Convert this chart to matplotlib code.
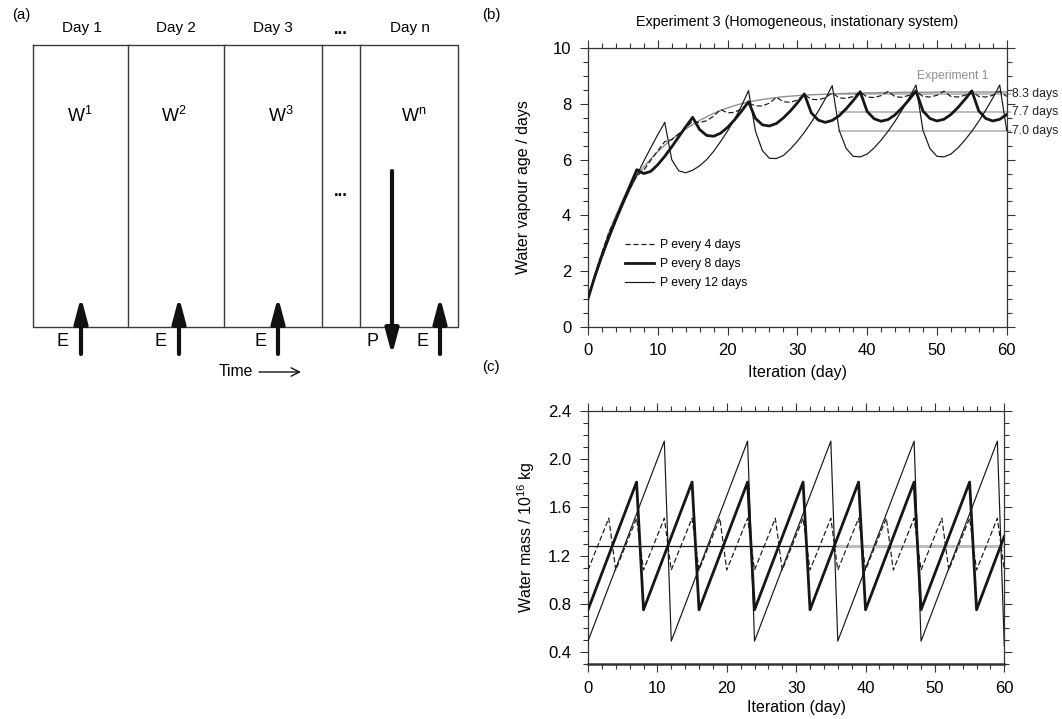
import matplotlib
matplotlib.use('Agg')
import matplotlib.pyplot as plt
from matplotlib.ticker import MultipleLocator

plt.rcParams['font.family'] = ['Liberation Sans', 'DejaVu Sans']
plt.rcParams['mathtext.fontset'] = 'custom'
plt.rcParams['mathtext.rm'] = 'Liberation Sans'
plt.rcParams['mathtext.it'] = 'Liberation Sans:italic'
plt.rcParams['mathtext.bf'] = 'Liberation Sans:bold'

# ---------------- data ----------------
days = list(range(61))

age_p4 = [1.00, 1.87, 2.66, 3.39, 3.92, 4.45, 4.95, 5.42, 5.62, 5.98,
          6.32, 6.65, 6.72, 6.93, 7.15, 7.38, 7.33, 7.40, 7.56, 7.80,
          7.68, 7.70, 7.83, 8.03, 7.93, 7.93, 8.03, 8.24, 8.08, 8.06,
          8.14, 8.34, 8.17, 8.15, 8.22, 8.40, 8.22, 8.20, 8.27, 8.43,
          8.25, 8.23, 8.30, 8.45, 8.26, 8.24, 8.31, 8.46, 8.27, 8.25,
          8.31, 8.46, 8.27, 8.25, 8.31, 8.46, 8.27, 8.25, 8.31, 8.46,
          8.27]

age_p8 = [1.00, 1.83, 2.56, 3.23, 3.86, 4.47, 5.06, 5.64, 5.50, 5.58,
          5.82, 6.12, 6.46, 6.82, 7.18, 7.52, 7.08, 6.87, 6.84, 6.95,
          7.16, 7.43, 7.74, 8.08, 7.48, 7.25, 7.21, 7.30, 7.50, 7.75,
          8.04, 8.36, 7.68, 7.42, 7.34, 7.41, 7.58, 7.83, 8.12, 8.44,
          7.73, 7.47, 7.38, 7.44, 7.61, 7.86, 8.15, 8.47, 7.75, 7.48,
          7.39, 7.45, 7.62, 7.87, 8.16, 8.47, 7.75, 7.48, 7.39, 7.45,
          7.62]

age_p12 = [1.00, 1.76, 2.48, 3.15, 3.78, 4.37, 4.93, 5.45, 5.95, 6.43,
           6.90, 7.34, 6.00, 5.60, 5.53, 5.62, 5.78, 6.00, 6.30, 6.65,
           7.03, 7.45, 7.93, 8.48, 7.02, 6.32, 6.05, 6.04, 6.15, 6.38,
           6.66, 6.98, 7.34, 7.74, 8.18, 8.66, 7.05, 6.40, 6.12, 6.10,
           6.20, 6.42, 6.70, 7.02, 7.38, 7.78, 8.21, 8.68, 7.05, 6.40,
           6.12, 6.10, 6.20, 6.42, 6.70, 7.02, 7.38, 7.78, 8.21, 8.68,
           7.05]

age_exp1 = [1.00, 1.85, 2.65, 3.38, 4.00, 4.55, 5.02, 5.42, 5.74, 6.03,
            6.29, 6.52, 6.73, 6.92, 7.10, 7.26, 7.41, 7.54, 7.66, 7.77,
            7.86, 7.94, 8.01, 8.07, 8.12, 8.16, 8.20, 8.23, 8.26, 8.28,
            8.30, 8.32, 8.33, 8.34, 8.35, 8.36, 8.37, 8.38, 8.39, 8.39,
            8.40, 8.40, 8.41, 8.41, 8.41, 8.42, 8.42, 8.42, 8.42, 8.42,
            8.43, 8.43, 8.43, 8.43, 8.43, 8.43, 8.43, 8.43, 8.43, 8.43,
            8.43]

ref_ages = [8.35, 7.72, 7.04]
ref_labels = ['8.3 days', '7.7 days', '7.0 days']
ref_start_day = 36

mass_days_p4 = [0, 3, 4, 7, 8, 11, 12, 15, 16, 19, 20, 23, 24, 27, 28, 31,
                32, 35, 36, 39, 40, 43, 44, 47, 48, 51, 52, 55, 56, 59, 60]
mass_p4 = [1.08, 1.51, 1.08, 1.51, 1.08, 1.51, 1.08, 1.51, 1.08, 1.51, 1.08,
           1.51, 1.08, 1.51, 1.08, 1.51, 1.08, 1.51, 1.08, 1.51, 1.08, 1.51,
           1.08, 1.51, 1.08, 1.51, 1.08, 1.51, 1.08, 1.51, 1.08]

mass_days_p8 = [0, 7, 8, 15, 16, 23, 24, 31, 32, 39, 40, 47, 48, 55, 56, 60]
mass_p8 = [0.75, 1.81, 0.75, 1.81, 0.75, 1.81, 0.75, 1.81, 0.75, 1.81, 0.75,
           1.81, 0.75, 1.81, 0.75, 1.36]

mass_days_p12 = [0, 11, 12, 23, 24, 35, 36, 47, 48, 59, 60]
mass_p12 = [0.49, 2.15, 0.49, 2.15, 0.49, 2.15, 0.49, 2.15, 0.49, 2.15, 0.45]

mass_mean = 1.28
mass_mean_grey_from = 36

legend_labels = ['P every 4 days', 'P every 8 days', 'P every 12 days']

day_labels = ['Day 1', 'Day 2', 'Day 3', 'Day n']
w_sups = ['1', '2', '3', 'n']

# ---------------- styles ----------------
INK = '#161616'
SPINE = '#333333'
GREY = '#8f8f8f'
LGREY = '#bdbdbd'
st4 = dict(color=INK, lw=0.85, ls=(0, (4.5, 2.2)))
st8 = dict(color=INK, lw=2.0)
st12 = dict(color=INK, lw=0.85)

W, H = 1062, 719
fig = plt.figure(figsize=(W / 100, H / 100), dpi=100)

# ---------------- panel (a): schematic in pixel coords ----------------
axa = fig.add_axes([0, 0, 1, 1])
axa.set_xlim(0, W)
axa.set_ylim(H, 0)
axa.axis('off')

bx0, bx1, by0, by1 = 33, 458, 45, 327
axa.plot([bx0, bx1, bx1, bx0, bx0], [by0, by0, by1, by1, by0], color='#3a3a3a', lw=1.0)
for xd in [128, 224, 322, 360]:
    axa.plot([xd, xd], [by0, by1], color='#3a3a3a', lw=1.0)

for lab, xc in zip(day_labels, [82, 175.5, 273, 410]):
    axa.text(xc, 28, lab, ha='center', va='center', fontsize=11)
axa.text(341, 29, '...', ha='center', va='center', fontsize=12, fontweight='bold')
axa.text(341, 192, '...', ha='center', va='center', fontsize=12, fontweight='bold')

for sup, xc in zip(w_sups, [80, 174, 281, 414]):
    axa.text(xc, 116, r'W$^{\mathregular{' + sup + '}}$', ha='center', va='center', fontsize=13)

arrow_kw = dict(arrowstyle='-|>,head_width=0.2,head_length=0.75', lw=3.0, color='#111111',
                shrinkA=0, shrinkB=0, mutation_scale=20)
for xa in [81, 179, 278, 440]:
    axa.annotate('', xy=(xa, 297), xytext=(xa, 354), arrowprops=arrow_kw)
axa.annotate('', xy=(392, 355), xytext=(392, 171), arrowprops=arrow_kw)

for xe in [63, 161, 260, 422]:
    axa.text(xe, 342, 'E', ha='center', va='center', fontsize=13)
axa.text(373, 341, 'P', ha='center', va='center', fontsize=13)

axa.text(236, 371, 'Time', ha='center', va='center', fontsize=11.3)
axa.annotate('', xy=(301, 372), xytext=(259, 372),
             arrowprops=dict(arrowstyle='->,head_width=0.25,head_length=0.5', lw=1.0,
                             color='#111111', shrinkA=0, shrinkB=0, mutation_scale=12))

axa.text(21, 15, '(a)', ha='center', va='center', fontsize=10.8)
axa.text(491, 15, '(b)', ha='center', va='center', fontsize=10.8)
axa.text(491, 367, '(c)', ha='center', va='center', fontsize=10.8)


def style_axes(ax):
    for s in ax.spines.values():
        s.set_color(SPINE)
        s.set_linewidth(0.9)
    ax.tick_params(which='both', direction='out', top=True, right=True,
                   labeltop=False, labelright=False, color=SPINE, width=0.8)
    ax.tick_params(which='major', length=6, labelsize=12, pad=6)
    ax.tick_params(which='minor', length=3.3)


# ---------------- panel (b) ----------------
axb = fig.add_axes([588 / W, 1 - 326.7 / H, 418.7 / W, 278.4 / H])
axb.plot(days, age_exp1, color=GREY, lw=1.0, zorder=2)
for v in ref_ages:
    axb.plot([ref_start_day, 60.5], [v, v], color=LGREY, lw=1.4, clip_on=False, zorder=1)
for v, lab in zip(ref_ages, ref_labels):
    axb.text(60.7, v, lab, ha='left', va='center', fontsize=8.8, color='#222222')
l4, = axb.plot(days, age_p4, **st4, zorder=3)
l8, = axb.plot(days, age_p8, **st8, zorder=3)
l12, = axb.plot(days, age_p12, **st12, zorder=3)
axb.text(52.3, 9.0, 'Experiment 1', ha='center', va='center', fontsize=8.7, color=GREY)
axb.set_xlim(0, 60)
axb.set_ylim(0, 10)
axb.xaxis.set_major_locator(MultipleLocator(10))
axb.xaxis.set_minor_locator(MultipleLocator(2))
axb.yaxis.set_major_locator(MultipleLocator(2))
axb.yaxis.set_minor_locator(MultipleLocator(0.5))
style_axes(axb)
axb.set_xlabel('Iteration (day)', fontsize=11.5, labelpad=5)
axb.set_ylabel('Water vapour age / days', fontsize=11.5, labelpad=16)
axb.set_title('Experiment 3 (Homogeneous, instationary system)', fontsize=10.3, pad=16)
axb.legend([l4, l8, l12], legend_labels, loc='center left', bbox_to_anchor=(0.088, 0.225),
           frameon=False, fontsize=8.8, handlelength=2.4, handletextpad=0.45,
           labelspacing=0.55, borderpad=0, borderaxespad=0)

# ---------------- panel (c) ----------------
axc = fig.add_axes([588 / W, 1 - 664 / H, 416.3 / W, 253 / H])
axc.plot([0, 60], [mass_mean, mass_mean], color=INK, lw=0.9, zorder=2)
axc.plot([mass_mean_grey_from, 60], [mass_mean, mass_mean], color=LGREY, lw=2.2, zorder=2.5)
axc.plot(mass_days_p4, mass_p4, **st4, zorder=3)
axc.plot(mass_days_p8, mass_p8, **st8, zorder=3)
axc.plot(mass_days_p12, mass_p12, **st12, zorder=3)
axc.set_xlim(0, 60)
axc.set_ylim(0.3, 2.4)
axc.xaxis.set_major_locator(MultipleLocator(10))
axc.xaxis.set_minor_locator(MultipleLocator(2))
axc.set_yticks([0.4, 0.8, 1.2, 1.6, 2.0, 2.4])
axc.set_yticklabels(['0.4', '0.8', '1.2', '1.6', '2.0', '2.4'])
axc.yaxis.set_minor_locator(MultipleLocator(0.1))
style_axes(axc)
axc.spines['bottom'].set_linewidth(1.8)
axc.set_xlabel('Iteration (day)', fontsize=11.5, labelpad=3)
axc.set_ylabel(r'Water mass / 10$^{\mathregular{16}}$ kg', fontsize=11.5, labelpad=8)

fig.savefig('out.png', dpi=100)
